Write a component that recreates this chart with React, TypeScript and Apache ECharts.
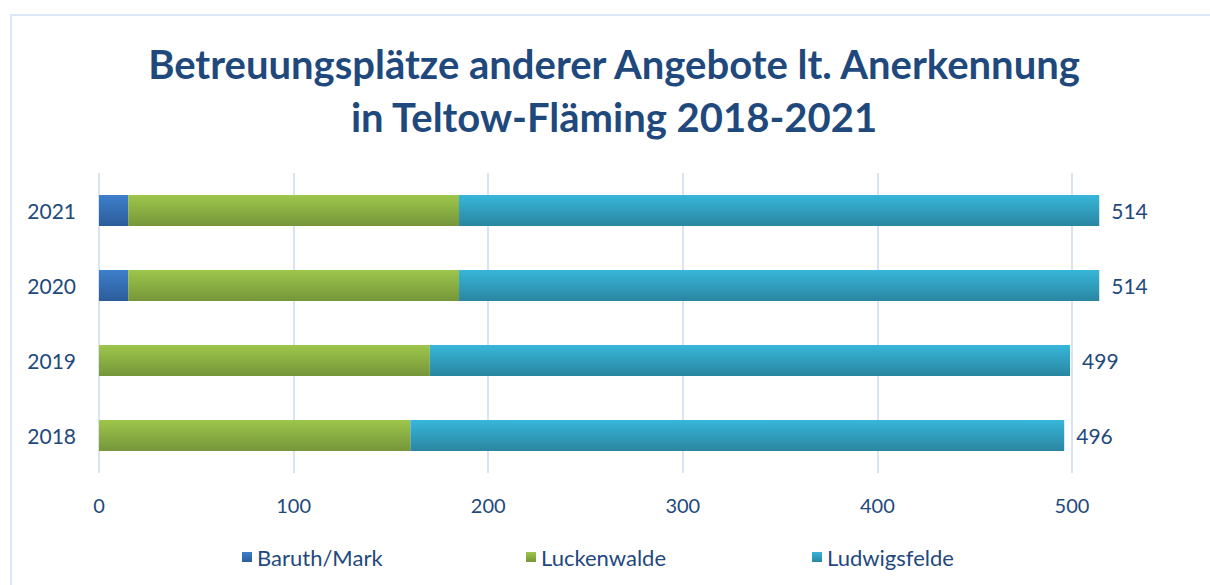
import React, { useEffect, useRef } from "react";
import * as echarts from "echarts";

const years = ["2018", "2019", "2020", "2021"];
const baruth = [0, 0, 15, 15];
const luckenwalde = [160, 170, 170, 170];
const ludwigsfelde = [336, 329, 329, 329];
const seriesNames = ["Baruth/Mark", "Luckenwalde", "Ludwigsfelde"];
const titleLines = ["Betreuungsplätze anderer Angebote lt. Anerkennung", "in Teltow-Fläming 2018-2021"];

const FONT = "Lato";
const TEXT = "#1f497d";

function grad(top: string, bottom: string) {
  return new echarts.graphic.LinearGradient(0, 0, 0, 1, [
    { offset: 0, color: top },
    { offset: 1, color: bottom },
  ]);
}

export default function App() {
  const ref = useRef<HTMLDivElement>(null);
  useEffect(() => {
    if (!ref.current) return;
    const chart = echarts.init(ref.current, null, { renderer: "svg" });
    const totals = years.map((_, i) => baruth[i] + luckenwalde[i] + ludwigsfelde[i]);
    const legendLefts = [237, 521, 807];
    chart.setOption({
      animation: false,
      textStyle: { fontFamily: FONT },
      graphic: [
        {
          type: "rect",
          shape: { x: 11, y: 15, width: 1300, height: 700 },
          style: { fill: "none", stroke: "#dce6f4", lineWidth: 2 },
          silent: true,
        },
        {
          type: "text",
          x: 614,
          y: 37,
          silent: true,
          style: {
            text: titleLines.join("\n"),
            align: "center",
            verticalAlign: "top",
            fontFamily: FONT,
            fontWeight: "bold",
            fontSize: 40,
            lineHeight: 53,
            fill: TEXT,
          },
        },
      ],
      legend: seriesNames.map((n, i) => ({
        data: [n],
        left: legendLefts[i],
        top: 541,
        itemWidth: 10,
        itemHeight: 10,
        itemGap: 6,
        icon: "rect",
        textStyle: { fontFamily: FONT, fontSize: 22, color: TEXT, padding: [0, 0, 0, 0] },
      })),
      grid: { left: 99, right: 138, top: 173, height: 300 },
      xAxis: {
        type: "value",
        min: 0,
        max: 500,
        interval: 100,
        axisLine: { show: false },
        axisTick: { show: false },
        splitLine: { show: true, lineStyle: { color: "#d9e4f2", width: 2 } },
        axisLabel: { color: TEXT, fontSize: 20, fontFamily: FONT, margin: 22 },
      },
      yAxis: {
        type: "category",
        data: years,
        axisLine: { show: false },
        axisTick: { show: false },
        axisLabel: { color: TEXT, fontSize: 21, fontFamily: FONT, margin: 23 },
      },
      series: [
        {
          name: seriesNames[0],
          type: "bar",
          stack: "total",
          data: baruth,
          barWidth: 31,
          clip: false,
          itemStyle: { color: grad("#3e7fcc", "#2b5c99") },
        },
        {
          name: seriesNames[1],
          type: "bar",
          stack: "total",
          data: luckenwalde,
          barWidth: 31,
          clip: false,
          itemStyle: { color: grad("#9dc64b", "#76963a") },
        },
        {
          name: seriesNames[2],
          type: "bar",
          stack: "total",
          data: ludwigsfelde,
          barWidth: 31,
          clip: false,
          itemStyle: { color: grad("#37b6da", "#2a86a0") },
          label: {
            show: true,
            position: "right",
            distance: 12,
            color: TEXT,
            fontSize: 21,
            fontFamily: FONT,
            formatter: (p: any) => String(totals[p.dataIndex]),
          },
        },
      ],
    });
    return () => chart.dispose();
  }, []);
  return (
    <div
      ref={ref}
      style={{ position: "absolute", left: 0, top: 0, width: 1210, height: 585, background: "#fff" }}
    />
  );
}
